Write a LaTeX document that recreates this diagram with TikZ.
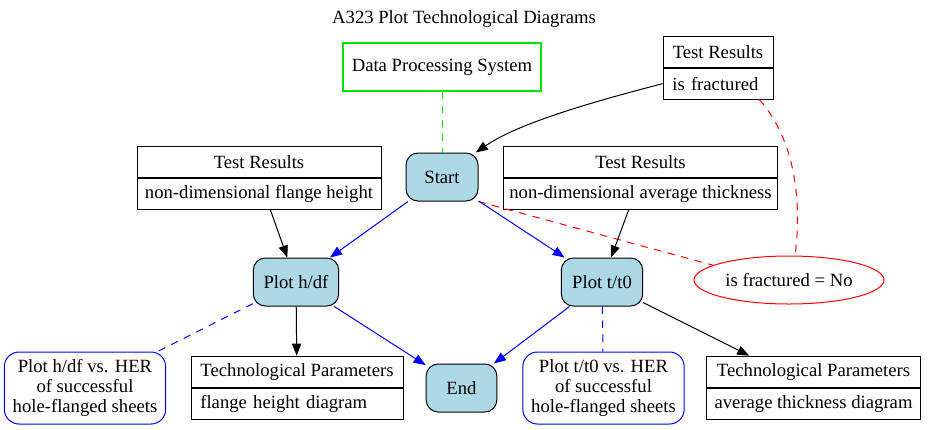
\documentclass[tikz,border=0pt]{standalone}
\usepackage{fontspec}
\setmainfont{Liberation Serif}
\usetikzlibrary{positioning,shapes.geometric,arrows.meta,fit}
\definecolor{lightblue}{HTML}{ADD8E6}
\definecolor{gvgreen}{RGB}{0,230,0}

\begin{document}
\begin{tikzpicture}[%
  x=0.75pt,y=-0.75pt,
  line width=0.75pt,
  every node/.style={font=\fontsize{14pt}{15pt}\selectfont},
  action/.style={draw,rounded corners=9pt,fill=lightblue,minimum width=#1,minimum height=36pt,inner sep=0pt},
  system/.style={rectangle,draw=gvgreen,line width=0.9pt,minimum width=148.5pt,minimum height=36pt,inner sep=0pt},
  rectop/.style={draw,minimum width=#1,minimum height=23pt,inner sep=0pt},
  recbot/.style={draw,minimum width=#1,minimum height=23pt,inner sep=0pt},
  recleft/.style={draw,text width=#1,align=left,minimum height=23pt,inner xsep=7pt,inner ysep=0pt},
  whole/.style={fit=#1,inner sep=0pt},
  note/.style={draw=blue,rounded corners=11pt,align=center,minimum width=121pt,minimum height=54pt,inner sep=0pt},
  cond/.style={ellipse,draw=red,minimum width=142.5pt,minimum height=36pt,inner sep=0pt},
  arrow/.style={-{Triangle[length=9pt,width=7pt]}},
  link/.style={dash pattern=on 5.5pt off 5pt}
  ]
  \useasboundingbox (0,0) rectangle (928,429);
  \node (title) at (464,19) {A323 Plot Technological Diagrams};
  \node[system] (dps) at (442,67) {Data Processing System};
  % test results records
  \node[rectop=82.5pt] (trft) at (718,52) {Test Results};
  \node[recleft=68.5pt,below=0pt of trft] (trfb) {is fractured};
  \node[whole=(trft)(trfb)] (trf) {};
  \node[rectop=183pt] (trlt) at (259,162) {Test Results};
  \node[recbot=183pt,below=0pt of trlt] (trlb) {non-dimensional flange height};
  \node[whole=(trlt)(trlb)] (trl) {};
  \node[rectop=206pt] (trrt) at (640.5,162) {Test Results};
  \node[recbot=206pt,below=0pt of trrt] (trrb) {non-dimensional average thickness};
  \node[whole=(trrt)(trrb)] (trr) {};
  % steps
  \node[action=54pt] (start) at (442,177) {Start};
  \node[action=64pt] (ploth) at (296,282) {Plot h/df};
  \node[action=61pt] (plott) at (602,282) {Plot t/t0};
  \node[action=53pt] (finish) at (461.5,388) {End};
  \node[cond] (isno) at (789,280) {is fractured = No};
  % outputs
  \node[note] (noteh) at (85,388) {Plot h/df vs. HER\\of successful\\hole-flanged sheets};
  \node[note] (notet) at (603.5,388) {Plot t/t0 vs. HER\\of successful\\hole-flanged sheets};
  \node[rectop=159pt] (tplt) at (297,372) {Technological Parameters};
  \node[recleft=145pt,below=0pt of tplt] (tplb) {flange height diagram};
  \node[whole=(tplt)(tplb)] (tpl) {};
  \node[rectop=160pt] (tprt) at (813.5,372) {Technological Parameters};
  \node[recbot=160pt,below=0pt of tprt] (tprb) {average thickness diagram};
  \node[whole=(tprt)(tprb)] (tpr) {};
  % connectors
  \draw[link,gvgreen] (dps) -- (start);
  \draw[arrow] (trfb.west) .. controls (600,100) and (520,122) .. ([xshift=-2pt]start.north east);
  \draw[link,red] (trfb.-21) .. controls (795,140) and (802,200) .. (isno.76);
  \draw[link,red] (start.south east) -- (isno.169);
  \draw[arrow,blue] (start) -- (ploth);
  \draw[arrow,blue] (start) -- (plott);
  \draw[arrow] (trl) -- (ploth);
  \draw[arrow] (trr) -- (plott);
  \draw[link,blue] (ploth) -- (noteh);
  \draw[arrow] (ploth) -- (tpl);
  \draw[arrow,blue] (ploth) -- (finish);
  \draw[arrow,blue] (plott) -- (finish);
  \draw[link,blue] (plott) -- (notet);
  \draw[arrow] (plott) -- (tpr);
\end{tikzpicture}
\end{document}
